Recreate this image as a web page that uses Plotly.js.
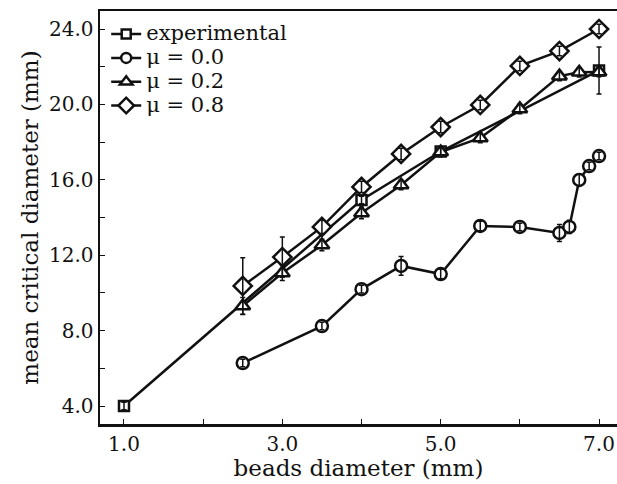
<!DOCTYPE html>
<html>
<head>
<meta charset="utf-8">
<script src="https://cdn.plot.ly/plotly-3.0.1.min.js"></script>
<style>html,body{margin:0;padding:0;overflow:hidden;background:#fff;}</style>
</head>
<body>
<div id="chart" style="width:617px;height:484px;"></div>
<script>
// ---- data ----
const expX = [1.0, 4.0, 5.0, 7.0];
const expY = [4.0, 14.93, 17.5, 21.8];
const expErr = [0.2, 0.2, 0.2, 1.25];

const mu0X = [2.5, 3.5, 4.0, 4.5, 5.0, 5.5, 6.0, 6.5, 6.625, 6.75, 6.875, 7.0];
const mu0Y = [6.28, 8.24, 10.2, 11.43, 11.0, 13.55, 13.5, 13.18, 13.5, 15.99, 16.73, 17.26];
const mu0Err = [0.2, 0.2, 0.2, 0.5, 0.25, 0.25, 0.2, 0.45, 0.35, 0.3, 0.2, 0.2];

const mu2X = [2.5, 3.0, 3.5, 4.0, 4.5, 5.0, 5.5, 6.0, 6.5, 6.75, 7.0];
const mu2Y = [9.3, 11.06, 12.54, 14.24, 15.72, 17.47, 18.22, 19.76, 21.5, 21.7, 21.72];
const mu2Err = [0.45, 0.4, 0.3, 0.3, 0.25, 0.25, 0.25, 0.25, 0.25, 0.25, 0.25];

const mu8X = [2.5, 3.0, 3.5, 4.0, 4.5, 5.0, 5.5, 6.0, 6.5, 7.0];
const mu8Y = [10.37, 11.9, 13.5, 15.62, 17.37, 18.8, 19.97, 22.04, 22.83, 24.0];
const mu8Err = [1.5, 1.07, 0.35, 0.3, 0.3, 0.3, 0.25, 0.25, 0.25, 0.25];

const seriesNames = ['experimental', 'μ = 0.0', 'μ = 0.2', 'μ = 0.8'];
const xTickVals = [1, 2, 3, 4, 5, 6, 7];
const xTickText = ['1.0', '', '3.0', '', '5.0', '', '7.0'];
const yTickVals = [4, 6, 8, 10, 12, 14, 16, 18, 20, 22, 24];
const yTickText = ['4.0', '', '8.0', '', '12.0', '', '16.0', '', '20.0', '', '24.0'];

// ---- traces ----
const series = [
  {x: expX, y: expY, e: expErr, sym: 'square', size: 10, lsize: 9},
  {x: mu0X, y: mu0Y, e: mu0Err, sym: 'circle', size: 12, lsize: 10},
  {x: mu2X, y: mu2Y, e: mu2Err, sym: 'triangle-up', size: 13, lsize: 11},
  {x: mu8X, y: mu8Y, e: mu8Err, sym: 'diamond', size: 14, lsize: 12}
];
const traces = [];
series.forEach((s, i) => {
  traces.push({
    type: 'scatter', mode: 'lines+markers', name: seriesNames[i], showlegend: false,
    x: s.x, y: s.y,
    line: {color: '#111', width: 2.5},
    marker: {symbol: s.sym, size: s.size, color: '#fff', line: {color: '#111', width: 2.5}},
    cliponaxis: false
  });
});
series.forEach((s, i) => {
  traces.push({
    type: 'scatter', mode: 'markers', showlegend: false, hoverinfo: 'skip',
    x: s.x, y: s.y,
    marker: {size: 1, color: 'rgba(0,0,0,0)'},
    error_y: {type: 'data', array: s.e, visible: true, color: '#111', thickness: 1.5, width: 2.5}
  });
});
// legend entries (same styling, smaller glyphs)
series.forEach((s, i) => {
  traces.push({
    type: 'scatter', mode: 'lines+markers',
    name: '<span style="font-size:21px">' + seriesNames[i] + '</span>',
    x: [null], y: [null], showlegend: true,
    line: {color: '#111', width: 2.5},
    marker: {symbol: s.sym, size: s.lsize, color: '#fff', line: {color: '#111', width: 2.5}}
  });
});

const font = {family: 'DejaVu Serif, serif', size: 20, color: '#111'};
const titleFont = {family: 'DejaVu Serif, serif', size: 23, color: '#111'};
const layout = {
  width: 617, height: 484,
  margin: {l: 100, r: 0, t: 11, b: 60},
  paper_bgcolor: '#fff', plot_bgcolor: '#fff',
  font: font,
  showlegend: true,
  legend: {x: 0.012, y: 0.985, xanchor: 'left', yanchor: 'top', bgcolor: 'rgba(0,0,0,0)',
           font: {family: 'DejaVu Serif, serif', size: 16, color: '#111'},
           tracegroupgap: 0, itemwidth: 30},
  xaxis: {
    range: [0.697, 7.227], showgrid: false, zeroline: false,
    showline: true, linecolor: '#111', linewidth: 2.5, mirror: true,
    ticks: 'inside', ticklen: 5, tickwidth: 1, tickcolor: '#111',
    tickmode: 'array', tickvals: xTickVals, ticktext: xTickText,
    tickfont: font,
    title: {text: 'beads diameter (mm)', font: titleFont, standoff: 0}
  },
  yaxis: {
    range: [3.045, 24.955], showgrid: false, zeroline: false,
    showline: true, linecolor: '#111', linewidth: 2.5, mirror: false,
    ticks: 'inside', ticklen: 5, tickwidth: 1, tickcolor: '#111',
    tickmode: 'array', tickvals: yTickVals, ticktext: yTickText,
    tickfont: font,
    title: {text: 'mean critical diameter (mm)', font: titleFont, standoff: 4}
  }
};
Plotly.newPlot('chart', traces, layout, {staticPlot: true, displayModeBar: false});
</script>
</body>
</html>
